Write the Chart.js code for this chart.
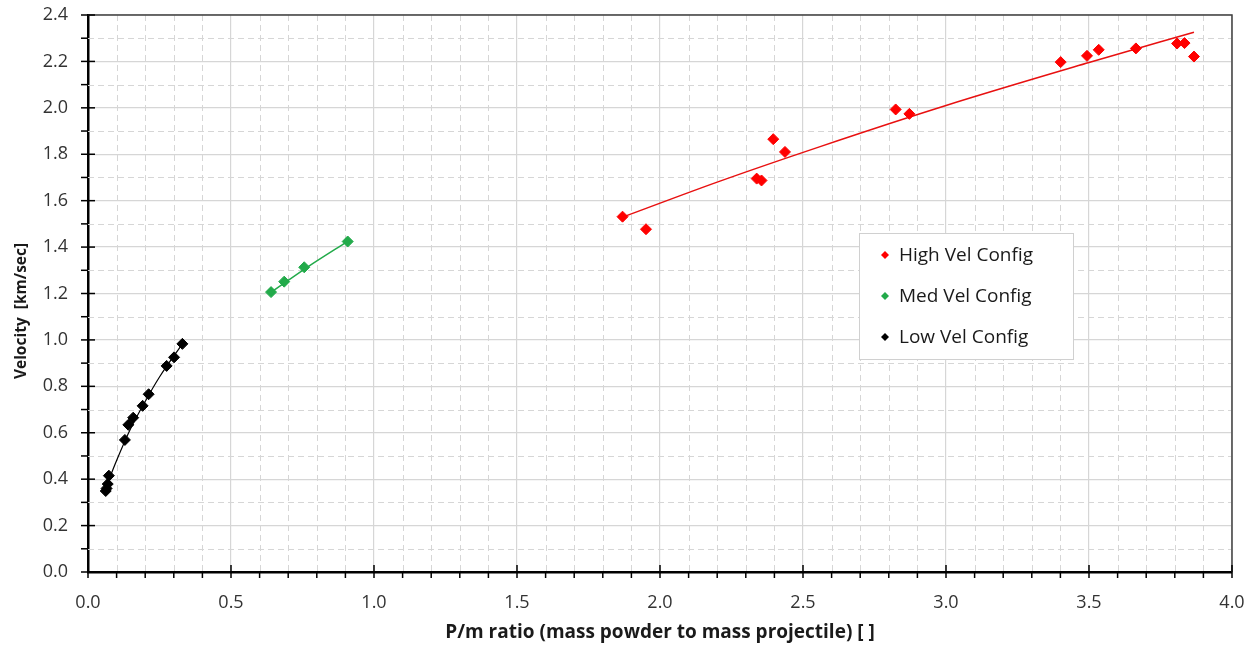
<!DOCTYPE html>
<html><head><meta charset="utf-8">
<script src="https://cdn.jsdelivr.net/npm/chart.js@4/dist/chart.umd.min.js"></script>
<style>html,body{margin:0;padding:0;background:#fff}#w{width:1260px;height:650px;position:relative}</style>
</head><body><div id="w"><canvas id="c" width="1260" height="650"></canvas></div>
<script>
// ---- data ----
const highX = [1.869, 1.951, 2.338, 2.355, 2.396, 2.437, 2.824, 2.872, 3.401, 3.493, 3.534, 3.664, 3.808, 3.834, 3.867];
const highY = [1.531, 1.477, 1.695, 1.687, 1.865, 1.810, 1.993, 1.974, 2.197, 2.224, 2.250, 2.256, 2.277, 2.279, 2.221];
const medX  = [0.640, 0.686, 0.756, 0.908];
const medY  = [1.206, 1.251, 1.313, 1.424];
const lowX  = [0.062, 0.065, 0.069, 0.073, 0.129, 0.141, 0.158, 0.191, 0.212, 0.275, 0.301, 0.330];
const lowY  = [0.349, 0.360, 0.379, 0.415, 0.569, 0.634, 0.665, 0.716, 0.766, 0.888, 0.925, 0.983];
// trend lines
const highTrendX = [1.869, 2.2, 2.56, 3.0, 3.5, 3.867];
const highTrendY = [1.529, 1.68, 1.833, 2.01, 2.195, 2.326];
const medTrendX  = [0.640, 0.77, 0.908];
const medTrendY  = [1.205, 1.316, 1.425];
const lowTrendX  = [0.062, 0.10, 0.15, 0.20, 0.25, 0.33];
const lowTrendY  = [0.362, 0.48, 0.62, 0.735, 0.84, 0.983];
const seriesNames = ['High Vel Config', 'Med Vel Config', 'Low Vel Config'];
const xTickLabels = ['0.0','0.5','1.0','1.5','2.0','2.5','3.0','3.5','4.0'];
const yTickLabels = ['0.0','0.2','0.4','0.6','0.8','1.0','1.2','1.4','1.6','1.8','2.0','2.2','2.4'];
const xTitle = 'P/m ratio (mass powder to mass projectile) [ ]';
const yTitle = 'Velocity  [km/sec]';

const RED = '#ff0000', GREEN = '#22aa4a', BLACK = '#000000';
const pts = (xs, ys) => xs.map((x, i) => ({x, y: ys[i]}));

function pointSet(label, xs, ys, color) {
  return {label, data: pts(xs, ys), showLine: false, pointStyle: 'rectRot',
    pointRadius: 5.5, pointHoverRadius: 5.5, backgroundColor: color, borderColor: color,
    borderWidth: 1, legendItem: true, order: 0};
}
function trendSet(xs, ys, color, w) {
  return {label: '', data: pts(xs, ys), showLine: true, pointRadius: 0, pointHoverRadius: 0,
    borderColor: color, borderWidth: w, cubicInterpolationMode: 'monotone', fill: false, order: 1};
}

const extras = {
  id: 'extras',
  beforeDatasetsDraw(chart) {
    const {ctx, chartArea: a, scales: {x, y}} = chart;
    ctx.save();
    ctx.strokeStyle = '#d6d6d6'; ctx.lineWidth = 1; ctx.setLineDash([6, 4]);
    for (let i = 1; i < 40; i++) {
      if (i % 5 === 0) continue;
      const px = Math.round(x.getPixelForValue(i / 10)) + 0.5;
      ctx.beginPath(); ctx.moveTo(px, a.top); ctx.lineTo(px, a.bottom); ctx.stroke();
    }
    for (let i = 1; i < 24; i += 2) {
      const py = Math.round(y.getPixelForValue(i / 10)) + 0.5;
      ctx.beginPath(); ctx.moveTo(a.left, py); ctx.lineTo(a.right, py); ctx.stroke();
    }
    ctx.restore();
  },
  afterDraw(chart) {
    const {ctx, chartArea: a, scales: {x, y}} = chart;
    ctx.save();
    // frame top/right
    ctx.strokeStyle = '#404040'; ctx.lineWidth = 1.5;
    ctx.beginPath(); ctx.moveTo(a.left, a.top); ctx.lineTo(a.right, a.top); ctx.lineTo(a.right, a.bottom); ctx.stroke();
    // tick marks
    ctx.strokeStyle = '#000'; ctx.lineWidth = 1.5;
    for (let i = 0; i <= 40; i++) {
      const px = x.getPixelForValue(i / 10);
      const major = i % 5 === 0;
      ctx.beginPath(); ctx.moveTo(px, major ? a.bottom - 7 : a.bottom); ctx.lineTo(px, a.bottom + 6); ctx.stroke();
    }
    for (let i = 0; i <= 24; i++) {
      const py = y.getPixelForValue(i / 10);
      const major = i % 2 === 0;
      ctx.beginPath(); ctx.moveTo(a.left - 7, py); ctx.lineTo(major ? a.left + 7 : a.left, py); ctx.stroke();
    }
    // y-axis title
    ctx.save();
    ctx.translate(22, 311); ctx.rotate(-Math.PI / 2);
    ctx.font = 'bold 15.5px "Open Sans"'; ctx.fillStyle = '#1a1a1a';
    ctx.textAlign = 'center'; ctx.textBaseline = 'middle';
    ctx.fillText(yTitle, 0, 0);
    ctx.restore();
    // legend
    const bx = 859, by = 233, bw = 214, bh = 126;
    ctx.fillStyle = '#fff'; ctx.fillRect(bx, by, bw, bh);
    ctx.strokeStyle = '#d0d0d0'; ctx.lineWidth = 1; ctx.strokeRect(bx + 0.5, by + 0.5, bw, bh);
    const items = chart.data.datasets.filter(d => d.legendItem);
    ctx.font = '19px "Open Sans"'; ctx.textBaseline = 'middle'; ctx.textAlign = 'left';
    items.forEach((d, i) => {
      const cy = by + 22 + i * 41;
      const cx = bx + 26;
      ctx.fillStyle = d.backgroundColor;
      ctx.beginPath(); ctx.moveTo(cx - 4, cy); ctx.lineTo(cx, cy - 4); ctx.lineTo(cx + 4, cy); ctx.lineTo(cx, cy + 4); ctx.closePath(); ctx.fill();
      ctx.fillStyle = '#1a1a1a';
      ctx.fillText(d.label, bx + 40, cy + 1);
    });
    ctx.restore();
  }
};

new Chart(document.getElementById('c'), {
  type: 'scatter',
  data: {datasets: [
    pointSet(seriesNames[0], highX, highY, RED),
    pointSet(seriesNames[1], medX, medY, GREEN),
    pointSet(seriesNames[2], lowX, lowY, BLACK),
    trendSet(highTrendX, highTrendY, '#e81010', 1.5),
    trendSet(medTrendX, medTrendY, GREEN, 1.5),
    trendSet(lowTrendX, lowTrendY, BLACK, 1.2)
  ]},
  options: {
    responsive: false, animation: false, devicePixelRatio: 1,
    layout: {padding: {top: 15, right: 28, left: 0, bottom: 0}},
    plugins: {legend: {display: false}, tooltip: {enabled: false}},
    scales: {
      x: {type: 'linear', min: 0, max: 4,
        afterFit(s) { s.height = 78; s.paddingLeft = 0; s.paddingRight = 0; },
        afterBuildTicks(s) { s.ticks = xTickLabels.map(t => ({value: parseFloat(t)})); },
        ticks: {stepSize: 0.5, padding: 20, color: '#333', font: {family: 'Open Sans', size: 18},
          callback: (v, i) => xTickLabels[i]},
        grid: {color: '#d6d6d6', lineWidth: 1.2, drawTicks: false},
        border: {color: '#000', width: 2.5},
        title: {display: true, text: xTitle, color: '#1a1a1a', padding: {bottom: 6, top: 0},
          font: {family: 'Open Sans', size: 19, weight: 'bold'}}
      },
      y: {type: 'linear', min: 0, max: 2.4,
        afterFit(s) { s.width = 88; s.paddingTop = 0; s.paddingBottom = 0; },
        afterBuildTicks(s) { s.ticks = yTickLabels.map(t => ({value: parseFloat(t)})); },
        ticks: {stepSize: 0.2, padding: 20, color: '#333', font: {family: 'Open Sans', size: 18},
          callback: (v, i) => yTickLabels[i]},
        grid: {color: '#d6d6d6', lineWidth: 1.2, drawTicks: false},
        border: {color: '#000', width: 2.5},
        title: {display: false, text: yTitle}
      }
    }
  },
  plugins: [extras]
});
</script>
</body></html>
